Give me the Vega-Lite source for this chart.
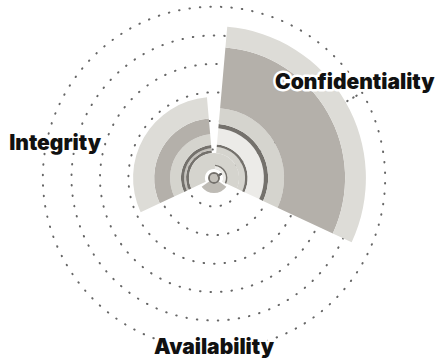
{
  "$schema": "https://vega.github.io/schema/vega-lite/v6.json",
  "width": 428,
  "height": 356,
  "autosize": {"type": "none"},
  "padding": {"left": 0, "top": 0, "right": 8, "bottom": 2},
  "background": "white",
  "config": {"view": {"stroke": null}},
  "datasets": {
    "rings": [
      {"r": 10, "t0": 60, "t1": 420},
      {"r": 20, "t0": 60, "t1": 420},
      {"r": 30, "t0": 60, "t1": 420},
      {"r": 40, "t0": 60, "t1": 420},
      {"r": 50, "t0": 60, "t1": 420},
      {"r": 60, "t0": 60, "t1": 420}
    ],
    "bands": [
      {"part": "Confidentiality", "t0": 5, "t1": 115, "r0": 8.8, "r1": 10.9, "tone": "pale"},
      {"part": "Confidentiality", "t0": 5, "t1": 115, "r0": 10.9, "r1": 11.8, "tone": "ring"},
      {"part": "Confidentiality", "t0": 5, "t1": 115, "r0": 11.8, "r1": 17.5, "tone": "white"},
      {"part": "Confidentiality", "t0": 5, "t1": 115, "r0": 17.5, "r1": 19, "tone": "ring"},
      {"part": "Confidentiality", "t0": 5, "t1": 115, "r0": 19, "r1": 24.6, "tone": "pale"},
      {"part": "Confidentiality", "t0": 5, "t1": 115, "r0": 24.6, "r1": 46, "tone": "band"},
      {"part": "Confidentiality", "t0": 5, "t1": 115, "r0": 46, "r1": 53.3, "tone": "outer"},
      {"part": "Integrity", "t0": 245, "t1": 355, "r0": 8.8, "r1": 9.8, "tone": "ring"},
      {"part": "Integrity", "t0": 245, "t1": 355, "r0": 9.8, "r1": 10.5, "tone": "mid"},
      {"part": "Integrity", "t0": 245, "t1": 355, "r0": 10.5, "r1": 11.6, "tone": "ring"},
      {"part": "Integrity", "t0": 245, "t1": 355, "r0": 11.6, "r1": 15.4, "tone": "pale"},
      {"part": "Integrity", "t0": 245, "t1": 355, "r0": 15.4, "r1": 21, "tone": "band"},
      {"part": "Integrity", "t0": 245, "t1": 355, "r0": 21, "r1": 28.4, "tone": "outer"},
      {"part": "Core", "t0": 245, "t1": 475, "r0": 3.2, "r1": 8.8, "tone": "pale"},
      {"part": "Core", "t0": 5, "t1": 115, "r0": 3.2, "r1": 4.2, "tone": "white"},
      {"part": "Core", "t0": 5, "t1": 115, "r0": 4.2, "r1": 4.7, "tone": "ring"},
      {"part": "Availability", "t0": 125, "t1": 235, "r0": 2.1, "r1": 5.3, "tone": "base"},
      {"part": "Center", "t0": 0, "t1": 360, "r0": 0, "r1": 1.4, "tone": "mid"},
      {"part": "Center", "t0": 0, "t1": 360, "r0": 1.4, "r1": 2.1, "tone": "ring"}
    ],
    "labels": [
      {"name": "Confidentiality", "angle": 56, "dist": 59.6},
      {"name": "Integrity", "angle": 282, "dist": 57},
      {"name": "Availability", "angle": 180, "dist": 59.6}
    ]
  },
  "layer": [
    {
      "data": {"name": "rings"},
      "mark": {"type": "arc", "filled": false, "stroke": "#666666", "strokeWidth": 2, "strokeDash": [0.5, 10], "strokeCap": "round"},
      "encoding": {
        "theta": {"field": "t0", "type": "quantitative", "stack": null, "scale": {"type": "linear", "domain": [0, 360], "range": [0, 6.283185]}},
        "theta2": {"field": "t1"},
        "radius": {"field": "r", "type": "quantitative", "scale": {"type": "linear", "domain": [0, 60], "range": [0, 171], "zero": true}}
      }
    },
    {
      "data": {"name": "bands"},
      "mark": {"type": "arc"},
      "encoding": {
        "theta": {"field": "t0", "type": "quantitative", "stack": null, "scale": {"type": "linear", "domain": [0, 360], "range": [0, 6.283185]}},
        "theta2": {"field": "t1"},
        "radius": {"field": "r1", "type": "quantitative", "scale": {"type": "linear", "domain": [0, 60], "range": [0, 171], "zero": true}},
        "radius2": {"field": "r0"},
        "color": {
          "field": "tone", "type": "nominal", "legend": null,
          "scale": {
            "domain": ["outer", "band", "pale", "white", "ring", "mid", "base"],
            "range": ["#dddcd7", "#b4b0aa", "#d5d4ce", "#ecebe8", "#74716c", "#c4c1bb", "#bebbb5"]
          }
        }
      }
    },
    {
      "data": {"name": "labels"},
      "mark": {"type": "text", "font": "Inter", "fontWeight": 900, "fontSize": 21, "fill": "#ffffff", "stroke": "#ffffff", "strokeWidth": 5, "strokeJoin": "round", "align": "center", "baseline": "middle"},
      "encoding": {
        "theta": {"field": "angle", "type": "quantitative", "stack": null, "scale": {"type": "linear", "domain": [0, 360], "range": [0, 6.283185]}},
        "radius": {"field": "dist", "type": "quantitative", "scale": {"type": "linear", "domain": [0, 60], "range": [0, 171], "zero": true}},
        "text": {"field": "name"}
      }
    },
    {
      "data": {"name": "labels"},
      "mark": {"type": "text", "font": "Inter", "fontWeight": 900, "fontSize": 21, "fill": "#111111", "align": "center", "baseline": "middle"},
      "encoding": {
        "theta": {"field": "angle", "type": "quantitative", "stack": null, "scale": {"type": "linear", "domain": [0, 360], "range": [0, 6.283185]}},
        "radius": {"field": "dist", "type": "quantitative", "scale": {"type": "linear", "domain": [0, 60], "range": [0, 171], "zero": true}},
        "text": {"field": "name"}
      }
    }
  ]
}
